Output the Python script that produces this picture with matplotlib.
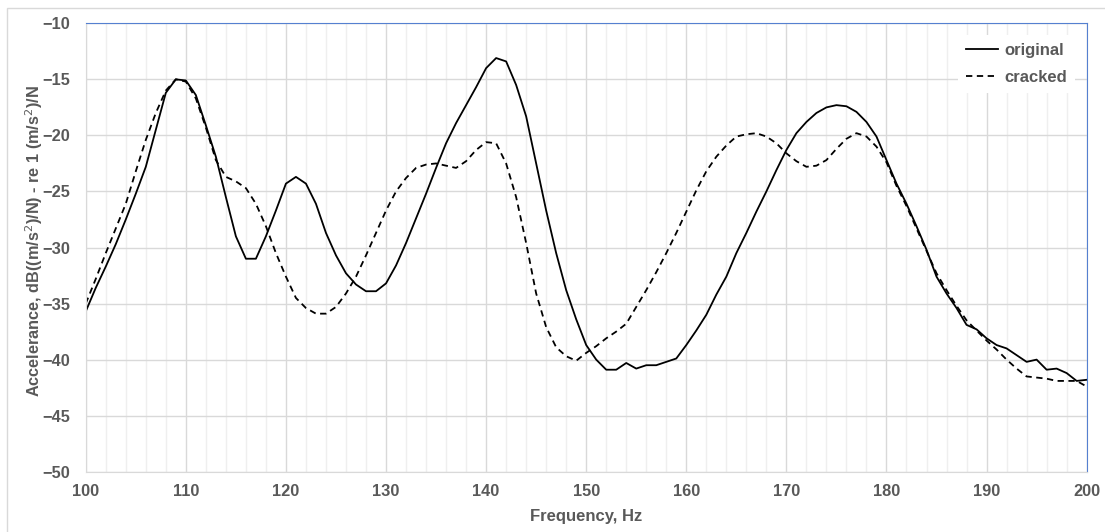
import numpy as np
import matplotlib.pyplot as plt
from matplotlib.patches import Rectangle

plt.rcParams["font.family"] = ["Liberation Sans", "DejaVu Sans"]
grey = "#595959"

freq = np.arange(100, 201)

original = [
    -35.7, -33.6, -31.7, -29.7, -27.5, -25.2, -22.8, -19.5, -16.2, -15.0,  # 100-109
    -15.1, -16.4, -19.1, -21.9, -25.5, -29.0, -31.0, -31.0, -29.0, -26.7,  # 110-119
    -24.3, -23.7, -24.3, -26.1, -28.7, -30.7, -32.3, -33.3, -33.9, -33.9,  # 120-129
    -33.2, -31.6, -29.6, -27.4, -25.2, -22.9, -20.7, -18.9, -17.3, -15.7,  # 130-139
    -14.0, -13.1, -13.4, -15.5, -18.3, -22.5, -26.7, -30.5, -33.8, -36.4,  # 140-149
    -38.7, -40.0, -40.9, -40.9, -40.3, -40.8, -40.5, -40.5, -40.2, -39.9,  # 150-159
    -38.7, -37.4, -36.0, -34.2, -32.6, -30.5, -28.7, -26.8, -25.0, -23.1,  # 160-169
    -21.3, -19.8, -18.8, -18.0, -17.5, -17.3, -17.4, -17.9, -18.8, -20.1,  # 170-179
    -22.2, -24.3, -26.1, -28.1, -30.2, -32.6, -34.1, -35.4, -36.9, -37.3,  # 180-189
    -38.1, -38.7, -39.0, -39.6, -40.2, -40.0, -40.9, -40.8, -41.2, -41.9,  # 190-199
    -41.8,                                                                 # 200
]

cracked = [
    -35.0, -32.8, -30.5, -28.3, -26.1, -23.2, -20.4, -18.0, -16.0, -15.0,  # 100-109
    -15.2, -16.7, -19.3, -22.2, -23.7, -24.1, -24.7, -26.1, -28.1, -30.5,  # 110-119
    -32.6, -34.5, -35.4, -35.9, -35.9, -35.3, -34.1, -32.6, -30.7, -28.7,  # 120-129
    -26.7, -25.0, -23.8, -22.9, -22.6, -22.5, -22.7, -22.9, -22.3, -21.3,  # 130-139
    -20.6, -20.7, -22.5, -25.5, -29.6, -34.1, -37.1, -38.9, -39.7, -40.1,  # 140-149
    -39.4, -38.8, -38.1, -37.5, -36.8, -35.3, -33.8, -32.2, -30.5, -28.7,  # 150-159
    -26.8, -24.9, -23.2, -21.9, -20.9, -20.1, -19.9, -19.8, -20.1, -20.7,  # 160-169
    -21.6, -22.3, -22.8, -22.7, -22.2, -21.2, -20.3, -19.8, -20.1, -21.0,  # 170-179
    -22.4, -24.5, -26.3, -28.3, -30.3, -32.3, -33.8, -35.2, -36.5, -37.4,  # 180-189
    -38.3, -39.1, -40.0, -40.8, -41.5, -41.6, -41.7, -41.9, -41.9, -41.9,  # 190-199
    -42.4,                                                                 # 200
]

fig = plt.figure(figsize=(11.05, 5.32), dpi=100)
ax = fig.add_axes([0.0776, 0.1133, 0.9058, 0.8429])

# light frame around the whole chart
fig.patches.append(Rectangle((7 / 1105, -0.1), 1.2, 1 - 8 / 532 + 0.1,
                             transform=fig.transFigure, fill=False,
                             edgecolor="#d9d9d9", linewidth=1.0))

ax.plot(freq, original, color="black", linewidth=1.3, label="original")
ax.plot(freq, cracked, color="black", linewidth=1.3, linestyle=(0, (3.5, 2.5)),
        label="cracked")

ax.set_xlim(100, 200)
ax.set_ylim(-50, -10)
ax.set_xticks(np.arange(100, 201, 10))
ax.set_xticks(np.arange(100, 201, 2), minor=True)
ax.set_yticks(np.arange(-50, -9, 5))
ax.grid(which="major", color="#d9d9d9", linewidth=1.0)
ax.grid(which="minor", axis="x", color="#efefef", linewidth=1.0)
ax.set_axisbelow(True)
ax.tick_params(which="both", length=0, labelsize=11.8, labelcolor=grey)
ax.tick_params(axis="x", pad=8.5)
ax.tick_params(axis="y", pad=11)
for lab in ax.get_xticklabels() + ax.get_yticklabels():
    lab.set_fontweight("bold")

for side in ["left", "bottom"]:
    ax.spines[side].set_color("#d9d9d9")
for side in ["top", "right"]:
    ax.spines[side].set_color("#5580d0")

ax.set_xlabel("Frequency, Hz", fontsize=12, fontweight="bold", color=grey)
ax.set_ylabel("Accelerance, dB((m/s$^2$)/N) - re 1 (m/s$^2$)/N", fontsize=11.7,
              fontweight="bold", color=grey)
ax.xaxis.set_label_coords(0.5, -0.083)
ax.yaxis.set_label_coords(-0.041, 0.515)

leg = ax.legend(loc="upper right", frameon=True, fontsize=12, handlelength=1.9,
                handletextpad=0.35, labelspacing=0.7, borderaxespad=0.7,
                borderpad=0.5)
leg.get_frame().set_edgecolor("none")
leg.get_frame().set_facecolor("white")
leg.get_frame().set_alpha(1)
for t in leg.get_texts():
    t.set_color(grey)
    t.set_fontweight("bold")

fig.savefig("out.png", dpi=100)
